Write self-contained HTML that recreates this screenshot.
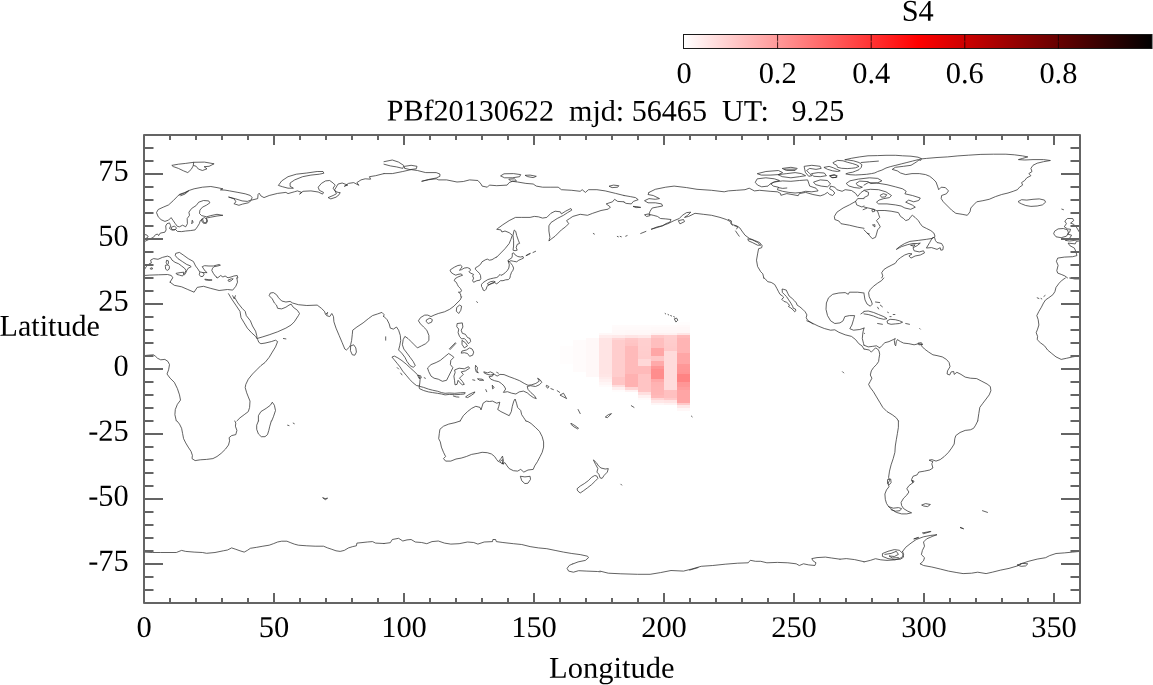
<!DOCTYPE html>
<html><head><meta charset="utf-8"><title>S4 map</title>
<style>
html,body{margin:0;padding:0;background:#fff;}
body{width:1153px;height:685px;overflow:hidden;font-family:"Liberation Serif",serif;}
svg{display:block;will-change:transform;}
text{font-family:"Liberation Serif",serif;font-size:30px;fill:#000;}
</style></head><body>
<svg width="1153" height="685" viewBox="0 0 1153 685">
<defs><linearGradient id="cb" x1="0" x2="1" y1="0" y2="0"><stop offset="0" stop-color="#fff"/><stop offset="0.5" stop-color="#f00"/><stop offset="1" stop-color="#000"/></linearGradient></defs>
<rect x="0" y="0" width="1153" height="685" fill="#fff"/>
<g shape-rendering="crispEdges">
<rect x="560.0" y="346" width="13" height="18.0" fill="#fffdfd"/>
<rect x="573.0" y="339.5" width="13" height="32.7" fill="#fffbfb"/>
<rect x="586.0" y="338.4" width="13" height="38.6" fill="#fff8f8"/>
<rect x="599.0" y="332.6" width="13" height="2.65" fill="rgb(255,248,248)"/>
<rect x="599.0" y="335.2" width="13" height="2.65" fill="rgb(255,237,237)"/>
<rect x="599.0" y="337.8" width="13" height="2.65" fill="rgb(255,228,228)"/>
<rect x="599.0" y="340.4" width="13" height="2.65" fill="rgb(255,228,228)"/>
<rect x="599.0" y="343.0" width="13" height="2.65" fill="rgb(255,228,228)"/>
<rect x="599.0" y="345.6" width="13" height="2.65" fill="rgb(255,228,228)"/>
<rect x="599.0" y="348.2" width="13" height="2.65" fill="rgb(255,228,228)"/>
<rect x="599.0" y="350.8" width="13" height="2.65" fill="rgb(255,228,228)"/>
<rect x="599.0" y="353.4" width="13" height="2.65" fill="rgb(255,228,228)"/>
<rect x="599.0" y="356.0" width="13" height="2.65" fill="rgb(255,228,228)"/>
<rect x="599.0" y="358.6" width="13" height="2.65" fill="rgb(255,228,228)"/>
<rect x="599.0" y="361.2" width="13" height="2.65" fill="rgb(255,228,228)"/>
<rect x="599.0" y="363.8" width="13" height="2.65" fill="rgb(255,228,228)"/>
<rect x="599.0" y="366.4" width="13" height="2.65" fill="rgb(255,228,228)"/>
<rect x="599.0" y="369.0" width="13" height="2.65" fill="rgb(255,228,228)"/>
<rect x="599.0" y="371.6" width="13" height="2.65" fill="rgb(255,228,228)"/>
<rect x="599.0" y="374.2" width="13" height="2.65" fill="rgb(255,230,230)"/>
<rect x="599.0" y="376.8" width="13" height="2.65" fill="rgb(255,235,235)"/>
<rect x="599.0" y="379.4" width="13" height="2.65" fill="rgb(255,240,240)"/>
<rect x="599.0" y="382.0" width="13" height="2.65" fill="rgb(255,246,246)"/>
<rect x="599.0" y="384.6" width="13" height="2.65" fill="rgb(255,251,251)"/>
<rect x="612.0" y="324.8" width="13" height="2.65" fill="rgb(255,251,251)"/>
<rect x="612.0" y="327.4" width="13" height="2.65" fill="rgb(255,250,250)"/>
<rect x="612.0" y="330.0" width="13" height="2.65" fill="rgb(255,249,249)"/>
<rect x="612.0" y="332.6" width="13" height="2.65" fill="rgb(255,248,248)"/>
<rect x="612.0" y="335.2" width="13" height="2.65" fill="rgb(255,234,234)"/>
<rect x="612.0" y="337.8" width="13" height="2.65" fill="rgb(255,212,212)"/>
<rect x="612.0" y="340.4" width="13" height="2.65" fill="rgb(255,205,205)"/>
<rect x="612.0" y="343.0" width="13" height="2.65" fill="rgb(255,205,205)"/>
<rect x="612.0" y="345.6" width="13" height="2.65" fill="rgb(255,205,205)"/>
<rect x="612.0" y="348.2" width="13" height="2.65" fill="rgb(255,205,205)"/>
<rect x="612.0" y="350.8" width="13" height="2.65" fill="rgb(255,205,205)"/>
<rect x="612.0" y="353.4" width="13" height="2.65" fill="rgb(255,205,205)"/>
<rect x="612.0" y="356.0" width="13" height="2.65" fill="rgb(255,205,205)"/>
<rect x="612.0" y="358.6" width="13" height="2.65" fill="rgb(255,205,205)"/>
<rect x="612.0" y="361.2" width="13" height="2.65" fill="rgb(255,205,205)"/>
<rect x="612.0" y="363.8" width="13" height="2.65" fill="rgb(255,205,205)"/>
<rect x="612.0" y="366.4" width="13" height="2.65" fill="rgb(255,205,205)"/>
<rect x="612.0" y="369.0" width="13" height="2.65" fill="rgb(255,205,205)"/>
<rect x="612.0" y="371.6" width="13" height="2.65" fill="rgb(255,205,205)"/>
<rect x="612.0" y="374.2" width="13" height="2.65" fill="rgb(255,205,205)"/>
<rect x="612.0" y="376.8" width="13" height="2.65" fill="rgb(255,197,197)"/>
<rect x="612.0" y="379.4" width="13" height="2.65" fill="rgb(255,197,197)"/>
<rect x="612.0" y="382.0" width="13" height="2.65" fill="rgb(255,197,197)"/>
<rect x="612.0" y="384.6" width="13" height="2.65" fill="rgb(255,221,221)"/>
<rect x="612.0" y="387.2" width="13" height="2.65" fill="rgb(255,240,240)"/>
<rect x="612.0" y="389.8" width="13" height="2.65" fill="rgb(255,252,252)"/>
<rect x="625.0" y="324.8" width="13" height="2.65" fill="rgb(255,251,251)"/>
<rect x="625.0" y="327.4" width="13" height="2.65" fill="rgb(255,250,250)"/>
<rect x="625.0" y="330.0" width="13" height="2.65" fill="rgb(255,248,248)"/>
<rect x="625.0" y="332.6" width="13" height="2.65" fill="rgb(255,247,247)"/>
<rect x="625.0" y="335.2" width="13" height="2.65" fill="rgb(255,229,229)"/>
<rect x="625.0" y="337.8" width="13" height="2.65" fill="rgb(255,200,200)"/>
<rect x="625.0" y="340.4" width="13" height="2.65" fill="rgb(255,197,197)"/>
<rect x="625.0" y="343.0" width="13" height="2.65" fill="rgb(255,195,195)"/>
<rect x="625.0" y="345.6" width="13" height="2.65" fill="rgb(255,186,186)"/>
<rect x="625.0" y="348.2" width="13" height="2.65" fill="rgb(255,186,186)"/>
<rect x="625.0" y="350.8" width="13" height="2.65" fill="rgb(255,186,186)"/>
<rect x="625.0" y="353.4" width="13" height="2.65" fill="rgb(255,186,186)"/>
<rect x="625.0" y="356.0" width="13" height="2.65" fill="rgb(255,186,186)"/>
<rect x="625.0" y="358.6" width="13" height="2.65" fill="rgb(255,186,186)"/>
<rect x="625.0" y="361.2" width="13" height="2.65" fill="rgb(255,186,186)"/>
<rect x="625.0" y="363.8" width="13" height="2.65" fill="rgb(255,186,186)"/>
<rect x="625.0" y="366.4" width="13" height="2.65" fill="rgb(255,186,186)"/>
<rect x="625.0" y="369.0" width="13" height="2.65" fill="rgb(255,186,186)"/>
<rect x="625.0" y="371.6" width="13" height="2.65" fill="rgb(255,186,186)"/>
<rect x="625.0" y="374.2" width="13" height="2.65" fill="rgb(255,177,177)"/>
<rect x="625.0" y="376.8" width="13" height="2.65" fill="rgb(255,177,177)"/>
<rect x="625.0" y="379.4" width="13" height="2.65" fill="rgb(255,177,177)"/>
<rect x="625.0" y="382.0" width="13" height="2.65" fill="rgb(255,177,177)"/>
<rect x="625.0" y="384.6" width="13" height="2.65" fill="rgb(255,177,177)"/>
<rect x="625.0" y="387.2" width="13" height="2.65" fill="rgb(255,213,213)"/>
<rect x="625.0" y="389.8" width="13" height="2.65" fill="rgb(255,242,242)"/>
<rect x="638.0" y="324.8" width="13" height="2.65" fill="rgb(255,251,251)"/>
<rect x="638.0" y="327.4" width="13" height="2.65" fill="rgb(255,250,250)"/>
<rect x="638.0" y="330.0" width="13" height="2.65" fill="rgb(255,248,248)"/>
<rect x="638.0" y="332.6" width="13" height="2.65" fill="rgb(255,247,247)"/>
<rect x="638.0" y="335.2" width="13" height="2.65" fill="rgb(255,232,232)"/>
<rect x="638.0" y="337.8" width="13" height="2.65" fill="rgb(255,208,208)"/>
<rect x="638.0" y="340.4" width="13" height="2.65" fill="rgb(255,207,207)"/>
<rect x="638.0" y="343.0" width="13" height="2.65" fill="rgb(255,207,207)"/>
<rect x="638.0" y="345.6" width="13" height="2.65" fill="rgb(255,206,206)"/>
<rect x="638.0" y="348.2" width="13" height="2.65" fill="rgb(255,206,206)"/>
<rect x="638.0" y="350.8" width="13" height="2.65" fill="rgb(255,205,205)"/>
<rect x="638.0" y="353.4" width="13" height="2.65" fill="rgb(255,205,205)"/>
<rect x="638.0" y="356.0" width="13" height="2.65" fill="rgb(255,204,204)"/>
<rect x="638.0" y="358.6" width="13" height="2.65" fill="rgb(255,216,216)"/>
<rect x="638.0" y="361.2" width="13" height="2.65" fill="rgb(255,216,216)"/>
<rect x="638.0" y="363.8" width="13" height="2.65" fill="rgb(255,216,216)"/>
<rect x="638.0" y="366.4" width="13" height="2.65" fill="rgb(255,186,186)"/>
<rect x="638.0" y="369.0" width="13" height="2.65" fill="rgb(255,186,186)"/>
<rect x="638.0" y="371.6" width="13" height="2.65" fill="rgb(255,186,186)"/>
<rect x="638.0" y="374.2" width="13" height="2.65" fill="rgb(255,196,196)"/>
<rect x="638.0" y="376.8" width="13" height="2.65" fill="rgb(255,196,196)"/>
<rect x="638.0" y="379.4" width="13" height="2.65" fill="rgb(255,196,196)"/>
<rect x="638.0" y="382.0" width="13" height="2.65" fill="rgb(255,196,196)"/>
<rect x="638.0" y="384.6" width="13" height="2.65" fill="rgb(255,196,196)"/>
<rect x="638.0" y="387.2" width="13" height="2.65" fill="rgb(255,196,196)"/>
<rect x="638.0" y="389.8" width="13" height="2.65" fill="rgb(255,197,197)"/>
<rect x="638.0" y="392.4" width="13" height="2.65" fill="rgb(255,223,223)"/>
<rect x="638.0" y="395.0" width="13" height="2.65" fill="rgb(255,241,241)"/>
<rect x="638.0" y="397.6" width="13" height="2.65" fill="rgb(255,251,251)"/>
<rect x="651.0" y="324.8" width="13" height="2.65" fill="rgb(255,251,251)"/>
<rect x="651.0" y="327.4" width="13" height="2.65" fill="rgb(255,249,249)"/>
<rect x="651.0" y="330.0" width="13" height="2.65" fill="rgb(255,247,247)"/>
<rect x="651.0" y="332.6" width="13" height="2.65" fill="rgb(255,240,240)"/>
<rect x="651.0" y="335.2" width="13" height="2.65" fill="rgb(255,200,200)"/>
<rect x="651.0" y="337.8" width="13" height="2.65" fill="rgb(255,190,190)"/>
<rect x="651.0" y="340.4" width="13" height="2.65" fill="rgb(255,190,190)"/>
<rect x="651.0" y="343.0" width="13" height="2.65" fill="rgb(255,190,190)"/>
<rect x="651.0" y="345.6" width="13" height="2.65" fill="rgb(255,190,190)"/>
<rect x="651.0" y="348.2" width="13" height="2.65" fill="rgb(255,166,166)"/>
<rect x="651.0" y="350.8" width="13" height="2.65" fill="rgb(255,166,166)"/>
<rect x="651.0" y="353.4" width="13" height="2.65" fill="rgb(255,166,166)"/>
<rect x="651.0" y="356.0" width="13" height="2.65" fill="rgb(255,198,198)"/>
<rect x="651.0" y="358.6" width="13" height="2.65" fill="rgb(255,198,198)"/>
<rect x="651.0" y="361.2" width="13" height="2.65" fill="rgb(255,170,170)"/>
<rect x="651.0" y="363.8" width="13" height="2.65" fill="rgb(255,170,170)"/>
<rect x="651.0" y="366.4" width="13" height="2.65" fill="rgb(255,150,150)"/>
<rect x="651.0" y="369.0" width="13" height="2.65" fill="rgb(255,141,141)"/>
<rect x="651.0" y="371.6" width="13" height="2.65" fill="rgb(255,141,141)"/>
<rect x="651.0" y="374.2" width="13" height="2.65" fill="rgb(255,141,141)"/>
<rect x="651.0" y="376.8" width="13" height="2.65" fill="rgb(255,141,141)"/>
<rect x="651.0" y="379.4" width="13" height="2.65" fill="rgb(255,169,169)"/>
<rect x="651.0" y="382.0" width="13" height="2.65" fill="rgb(255,178,178)"/>
<rect x="651.0" y="384.6" width="13" height="2.65" fill="rgb(255,179,179)"/>
<rect x="651.0" y="387.2" width="13" height="2.65" fill="rgb(255,180,180)"/>
<rect x="651.0" y="389.8" width="13" height="2.65" fill="rgb(255,180,180)"/>
<rect x="651.0" y="392.4" width="13" height="2.65" fill="rgb(255,181,181)"/>
<rect x="651.0" y="395.0" width="13" height="2.65" fill="rgb(255,185,185)"/>
<rect x="651.0" y="397.6" width="13" height="2.65" fill="rgb(255,214,214)"/>
<rect x="651.0" y="400.2" width="13" height="2.65" fill="rgb(255,231,231)"/>
<rect x="651.0" y="402.8" width="13" height="2.65" fill="rgb(255,246,246)"/>
<rect x="664.0" y="324.8" width="13" height="2.65" fill="rgb(255,251,251)"/>
<rect x="664.0" y="327.4" width="13" height="2.65" fill="rgb(255,249,249)"/>
<rect x="664.0" y="330.0" width="13" height="2.65" fill="rgb(255,247,247)"/>
<rect x="664.0" y="332.6" width="13" height="2.65" fill="rgb(255,241,241)"/>
<rect x="664.0" y="335.2" width="13" height="2.65" fill="rgb(255,206,206)"/>
<rect x="664.0" y="337.8" width="13" height="2.65" fill="rgb(255,205,205)"/>
<rect x="664.0" y="340.4" width="13" height="2.65" fill="rgb(255,204,204)"/>
<rect x="664.0" y="343.0" width="13" height="2.65" fill="rgb(255,203,203)"/>
<rect x="664.0" y="345.6" width="13" height="2.65" fill="rgb(255,202,202)"/>
<rect x="664.0" y="348.2" width="13" height="2.65" fill="rgb(255,201,201)"/>
<rect x="664.0" y="350.8" width="13" height="2.65" fill="rgb(255,219,219)"/>
<rect x="664.0" y="353.4" width="13" height="2.65" fill="rgb(255,219,219)"/>
<rect x="664.0" y="356.0" width="13" height="2.65" fill="rgb(255,219,219)"/>
<rect x="664.0" y="358.6" width="13" height="2.65" fill="rgb(255,219,219)"/>
<rect x="664.0" y="361.2" width="13" height="2.65" fill="rgb(255,219,219)"/>
<rect x="664.0" y="363.8" width="13" height="2.65" fill="rgb(255,219,219)"/>
<rect x="664.0" y="366.4" width="13" height="2.65" fill="rgb(255,219,219)"/>
<rect x="664.0" y="369.0" width="13" height="2.65" fill="rgb(255,219,219)"/>
<rect x="664.0" y="371.6" width="13" height="2.65" fill="rgb(255,219,219)"/>
<rect x="664.0" y="374.2" width="13" height="2.65" fill="rgb(255,219,219)"/>
<rect x="664.0" y="376.8" width="13" height="2.65" fill="rgb(255,219,219)"/>
<rect x="664.0" y="379.4" width="13" height="2.65" fill="rgb(255,219,219)"/>
<rect x="664.0" y="382.0" width="13" height="2.65" fill="rgb(255,219,219)"/>
<rect x="664.0" y="384.6" width="13" height="2.65" fill="rgb(255,219,219)"/>
<rect x="664.0" y="387.2" width="13" height="2.65" fill="rgb(255,219,219)"/>
<rect x="664.0" y="389.8" width="13" height="2.65" fill="rgb(255,192,192)"/>
<rect x="664.0" y="392.4" width="13" height="2.65" fill="rgb(255,192,192)"/>
<rect x="664.0" y="395.0" width="13" height="2.65" fill="rgb(255,192,192)"/>
<rect x="664.0" y="397.6" width="13" height="2.65" fill="rgb(255,202,202)"/>
<rect x="664.0" y="400.2" width="13" height="2.65" fill="rgb(255,228,228)"/>
<rect x="664.0" y="402.8" width="13" height="2.65" fill="rgb(255,242,242)"/>
<rect x="677.0" y="322.2" width="13" height="2.65" fill="rgb(255,253,253)"/>
<rect x="677.0" y="324.8" width="13" height="2.65" fill="rgb(255,250,250)"/>
<rect x="677.0" y="327.4" width="13" height="2.65" fill="rgb(255,248,248)"/>
<rect x="677.0" y="330.0" width="13" height="2.65" fill="rgb(255,247,247)"/>
<rect x="677.0" y="332.6" width="13" height="2.65" fill="rgb(255,230,230)"/>
<rect x="677.0" y="335.2" width="13" height="2.65" fill="rgb(255,186,186)"/>
<rect x="677.0" y="337.8" width="13" height="2.65" fill="rgb(255,180,180)"/>
<rect x="677.0" y="340.4" width="13" height="2.65" fill="rgb(255,180,180)"/>
<rect x="677.0" y="343.0" width="13" height="2.65" fill="rgb(255,180,180)"/>
<rect x="677.0" y="345.6" width="13" height="2.65" fill="rgb(255,180,180)"/>
<rect x="677.0" y="348.2" width="13" height="2.65" fill="rgb(255,180,180)"/>
<rect x="677.0" y="350.8" width="13" height="2.65" fill="rgb(255,180,180)"/>
<rect x="677.0" y="353.4" width="13" height="2.65" fill="rgb(255,166,166)"/>
<rect x="677.0" y="356.0" width="13" height="2.65" fill="rgb(255,166,166)"/>
<rect x="677.0" y="358.6" width="13" height="2.65" fill="rgb(255,166,166)"/>
<rect x="677.0" y="361.2" width="13" height="2.65" fill="rgb(255,166,166)"/>
<rect x="677.0" y="363.8" width="13" height="2.65" fill="rgb(255,152,152)"/>
<rect x="677.0" y="366.4" width="13" height="2.65" fill="rgb(255,151,151)"/>
<rect x="677.0" y="369.0" width="13" height="2.65" fill="rgb(255,150,150)"/>
<rect x="677.0" y="371.6" width="13" height="2.65" fill="rgb(255,148,148)"/>
<rect x="677.0" y="374.2" width="13" height="2.65" fill="rgb(255,131,131)"/>
<rect x="677.0" y="376.8" width="13" height="2.65" fill="rgb(255,131,131)"/>
<rect x="677.0" y="379.4" width="13" height="2.65" fill="rgb(255,131,131)"/>
<rect x="677.0" y="382.0" width="13" height="2.65" fill="rgb(255,150,150)"/>
<rect x="677.0" y="384.6" width="13" height="2.65" fill="rgb(255,151,151)"/>
<rect x="677.0" y="387.2" width="13" height="2.65" fill="rgb(255,158,158)"/>
<rect x="677.0" y="389.8" width="13" height="2.65" fill="rgb(255,165,165)"/>
<rect x="677.0" y="392.4" width="13" height="2.65" fill="rgb(255,165,165)"/>
<rect x="677.0" y="395.0" width="13" height="2.65" fill="rgb(255,165,165)"/>
<rect x="677.0" y="397.6" width="13" height="2.65" fill="rgb(255,165,165)"/>
<rect x="677.0" y="400.2" width="13" height="2.65" fill="rgb(255,165,165)"/>
<rect x="677.0" y="402.8" width="13" height="2.65" fill="rgb(255,201,201)"/>
<rect x="677.0" y="405.4" width="13" height="2.65" fill="rgb(255,232,232)"/>
<rect x="677.0" y="408.0" width="13" height="2.65" fill="rgb(255,247,247)"/>
</g>
<g fill="none" stroke="#2e2e2e" stroke-width="0.75" stroke-linejoin="round" stroke-linecap="round">
<path d="M172.2,165.3 L178.4,164.2 L185.7,163.4 L193.7,162.3 L193.2,165.9 L191.2,169.4 L187.8,172.6 L183.6,170.9 L178.4,168.4 L173.6,166.7 Z"/>
<path d="M193.7,162.3 L204.5,162.1 L214.1,163.8 L209.1,166.3 L204.1,166.7 L207.0,168.8 L202.4,170.5 L198.3,169.0 L196.2,166.3 L193.7,165.5"/>
<path d="M278.6,185.1 L281.7,180.9 L288.0,176.7 L296.3,174.2 L306.8,173.0 L317.2,171.5 L323.0,171.5 L323.9,173.2 L319.3,174.2 L310.9,175.1 L302.6,176.7 L294.7,179.9 L290.1,183.0 L290.1,186.3 L293.4,188.2 L288.0,188.2 L282.8,186.8 Z"/>
<path d="M144.0,234.3 L146.9,235.0 L148.2,236.8 L145.7,238.7 L144.0,239.8"/>
<path d="M144.0,241.8 L149.2,239.3 L153.4,237.3 L155.5,234.7 L157.6,234.1 L158.6,235.6 L160.3,233.1 L164.9,232.2 L166.1,229.9 L165.7,226.0 L167.0,223.7 L169.5,222.9 L170.7,225.8 L169.5,228.5 L172.2,230.2 L175.3,229.3 L177.4,231.4 L181.6,231.6 L185.7,231.0 L190.3,230.6 L195.1,229.9 L197.4,226.8 L199.3,223.7 L200.3,220.6 L202.8,219.3 L203.3,222.2 L206.2,223.5 L207.6,221.0 L206.0,218.1 L210.8,217.2 L217.0,216.0 L222.5,215.3"/>
<path d="M171.5,227.2 L174.5,226.0 L176.6,228.1 L174.5,230.2 L172.0,229.3 Z"/>
<path d="M222.5,215.3 L217.0,214.3 L210.8,215.6 L206.6,216.8 L201.6,215.6 L199.5,213.5 L199.9,210.1 L202.4,207.2 L206.6,205.1 L209.9,202.8 L208.7,200.9 L203.5,200.5 L198.7,202.2 L196.2,205.5 L191.6,208.5 L188.9,212.2 L189.5,215.3 L187.2,218.5 L187.4,223.7 L185.7,226.8 L182.6,225.2 L179.5,226.8 L177.4,226.4 L175.3,223.7 L173.2,220.6 L171.1,217.6 L168.6,220.1 L164.9,221.4 L161.1,219.7 L158.2,216.8 L156.5,212.6 L158.2,209.5 L163.2,207.2 L168.6,204.9 L173.2,200.7 L177.0,196.8 L179.5,194.3 L184.7,192.6 L188.9,190.5 L194.1,188.8 L202.4,187.2 L210.8,186.5 L217.0,187.6 L222.9,188.8 L220.4,189.9 L225.0,190.1 L229.6,190.9 L237.9,192.4 L245.2,193.8 L250.4,195.5 L252.1,197.6 L251.1,200.1 L247.3,201.4 L242.1,200.9 L235.8,198.9 L228.5,197.0 L234.2,198.9 L236.0,201.8 L233.9,203.7 L238.9,205.3 L242.5,204.1 L248.3,202.8 L251.7,200.1 L257.7,198.6 L258.1,194.3 L259.2,193.2 L260.9,195.9 L264.0,197.6 L269.2,195.5 L277.6,193.4 L285.9,192.4 L288.0,193.6 L294.3,191.8 L297.4,190.9 L301.8,192.4 L299.5,194.1 L303.0,191.3 L310.9,190.9 L318.2,192.0 L322.6,194.1 L323.5,192.4 L319.3,190.3 L318.2,187.2 L321.4,183.4 L325.6,180.9 L329.7,180.5 L333.1,183.0 L335.2,185.1 L333.1,188.2 L335.2,191.3 L338.1,192.4 L340.2,192.6 L339.1,194.7 L336.0,197.2 L330.8,198.9 L328.1,197.6 L333.1,195.5 L336.4,193.8 L334.7,189.7 L338.1,184.0 L342.2,183.0 L347.7,185.1 L344.3,186.3 L348.5,183.4 L353.7,182.6 L358.9,185.3 L356.9,182.6 L361.0,179.9 L365.2,178.8 L370.6,179.2 L369.4,176.7 L375.6,175.7 L384.0,173.6"/>
<path d="M179.1,195.1 L183.6,193.4 L188.7,190.9 L184.9,194.1 L180.7,195.7"/>
<path d="M192.4,220.6 L193.2,222.2 L192.0,223.5 Z"/>
<path d="M202.0,218.9 L204.5,217.6 L207.0,219.3 L206.2,222.6 L203.7,223.5 L202.0,221.4 Z"/>
<path d="M384.0,161.7 L392.3,160.0 L398.6,162.1 L403.8,165.5 L402.8,168.4 L396.5,166.9 L390.3,165.9 L384.0,164.2"/>
<path d="M404.9,166.3 L411.1,165.3 L417.0,166.3 L416.3,168.8 L410.1,169.6 L404.9,168.4 Z"/>
<path d="M384.0,173.6 L392.3,173.6 L402.8,171.5 L411.1,169.6 L417.4,170.5 L425.7,172.6 L436.2,172.6 L439.9,174.0 L439.9,176.3 L436.2,178.0 L428.9,179.4 L421.6,181.3 L428.9,179.7 L436.2,178.8 L438.7,179.9 L446.6,179.9 L457.0,182.0 L463.3,181.5 L469.6,179.9 L477.9,180.5 L481.0,184.0 L482.1,186.1 L487.3,187.2 L489.4,185.1 L496.7,185.7 L507.1,185.1 L509.2,182.6 L512.3,181.3 L517.6,182.0 L525.9,183.4 L533.2,184.0 L536.3,186.1 L542.6,187.2 L550.9,187.2 L558.2,187.2 L561.4,189.7 L571.8,190.3 L580.2,191.3 L582.2,189.7 L585.4,192.4 L588.5,189.7 L596.9,189.7 L605.2,190.9 L615.6,193.4 L624.0,195.5"/>
<path d="M500.9,175.7 L504.0,173.8 L513.4,173.6 L520.7,174.6 L519.6,176.7 L512.3,177.8 L505.0,177.8 Z"/>
<path d="M525.5,175.3 L530.1,175.1 L536.3,176.3 L533.2,177.6 L528.0,176.7 Z"/>
<path d="M509.2,179.2 L514.4,178.8 L516.5,180.9 L511.3,181.3 Z"/>
<path d="M609.4,186.1 L613.5,185.1 L618.8,185.7 L617.7,187.2 L612.5,187.6 Z"/>
<path d="M624.0,201.8 L617.7,201.4 L614.6,199.3 L612.5,201.8 L606.2,203.9 L610.4,207.0 L608.3,209.1 L601.0,210.5 L592.7,213.3 L587.5,215.3 L580.2,214.3 L572.9,216.4 L569.7,218.5 L566.6,220.6 L568.7,223.7 L565.6,226.8 L561.4,229.9 L558.2,233.1 L555.1,236.2 L550.9,239.3 L548.9,241.0 L549.9,237.3 L548.9,231.0 L548.9,225.8 L550.9,222.6 L557.2,218.5 L563.5,215.3 L567.6,212.6 L571.8,210.1 L570.8,208.5 L565.6,211.2 L561.4,213.9 L560.3,211.8 L555.1,211.2 L550.9,213.3 L546.8,217.4 L542.6,218.1 L538.4,216.8 L534.3,216.4 L530.1,217.4 L521.7,217.4 L515.5,217.4 L509.2,220.6 L502.9,224.7 L497.7,228.5 L496.7,229.3 L500.9,229.9 L501.9,232.0 L505.0,231.0 L509.2,232.7 L512.3,235.2 L510.9,239.3 L509.2,243.5 L505.0,248.7 L500.9,252.9 L496.7,257.1"/>
<path d="M593.3,233.5 L594.4,234.1"/>
<path d="M617.3,236.4 L618.3,236.8"/>
<path d="M620.2,236.4 L621.3,236.8"/>
<path d="M624.0,195.5 L630.3,196.6 L635.5,197.6 L638.2,199.7 L633.4,201.4 L631.3,203.9 L626.1,203.4 L624.0,202.2"/>
<path d="M633.4,206.4 L636.9,206.6 L640.7,207.4 L636.5,207.6 Z"/>
<path d="M649.0,192.4 L655.3,189.3 L665.7,187.2 L674.1,186.1 L686.6,187.6 L697.0,189.3 L711.6,190.3 L724.2,191.8 L728.3,190.9 L736.7,190.3 L745.0,189.7 L749.2,188.2 L754.4,190.9 L759.6,190.3 L770.1,191.3 L777.4,191.8 L780.5,193.4 L780.9,195.3 L786.8,193.6 L793.0,194.7 L798.2,195.7 L799.3,193.6 L805.6,192.4 L812.9,194.5 L820.2,195.9 L824.3,194.5 L827.5,192.4 L829.6,194.5 L832.7,195.5 L834.8,193.0 L832.7,190.5 L829.6,188.8 L830.6,186.1 L834.8,187.2 L836.9,189.7 L842.1,191.3 L845.2,189.7 L851.5,190.5 L855.6,193.4 L857.7,196.4 L860.9,192.6 L864.0,190.5"/>
<path d="M649.0,192.4 L648.0,194.5 L653.2,195.5 L659.5,198.6 L655.3,199.3 L649.0,198.6 L644.5,200.7 L648.0,202.8 L655.3,202.8 L661.6,203.9 L662.6,206.0 L657.4,207.0 L652.2,208.0 L650.1,211.2 L649.0,214.3 L653.2,215.3 L657.4,216.4 L660.5,218.5 L665.7,218.9 L671.0,219.5 L669.9,222.2 L665.7,223.7 L662.6,225.8 L657.4,226.8 L651.1,229.3 L659.5,226.8 L667.8,223.7 L674.1,220.6 L679.3,218.5 L682.4,215.3 L686.6,212.6 L690.8,212.2 L687.6,215.3 L684.5,217.4 L688.7,216.4 L695.0,213.3 L703.3,214.3 L711.6,215.3 L720.0,217.4 L726.3,219.5 L730.4,221.6 L732.5,224.7 L736.7,225.8 L739.8,227.9 L741.9,231.0 L745.0,235.2 L749.2,238.3 L754.4,240.4 L759.6,242.5 L762.1,245.6 L761.7,247.7 L758.6,248.7 L757.6,253.9 L756.5,260.2 L757.6,266.5 L760.7,271.7 L762.8,273.8 L763.8,277.9"/>
<path d="M645.9,231.4 L640.7,233.5"/>
<path d="M627.1,235.6 L625.7,236.2"/>
<path d="M678.7,220.6 L683.5,219.5 L684.5,221.6 L680.3,223.7 Z"/>
<path d="M644.9,214.7 L648.6,213.9 L650.1,215.6 L647.0,216.4 Z"/>
<path d="M748.2,238.9 L752.3,239.8 L757.6,242.5 L760.7,245.2 L757.6,245.2 L752.3,242.5 L748.8,241.0 Z"/>
<path d="M728.3,219.5 L731.5,221.0 L730.8,223.7 L732.5,225.2"/>
<path d="M734.6,225.8 L737.7,226.8 L736.7,228.9"/>
<path d="M735.6,231.0 L737.7,234.1 L739.2,236.2"/>
<path d="M757.6,178.8 L765.9,177.8 L774.3,178.8 L779.5,180.5 L774.3,182.0 L770.1,184.0 L768.0,186.1 L761.7,186.8 L757.6,185.1 L755.5,182.6 Z"/>
<path d="M774.3,182.0 L782.6,180.9 L790.9,181.3 L799.3,180.5 L807.6,179.9 L808.7,183.0 L809.7,186.1 L816.0,188.2 L818.1,190.9 L811.8,191.8 L805.6,191.3 L801.4,192.4 L795.1,193.0 L788.9,192.4 L782.6,191.3 L777.4,189.7 L778.4,187.2 L773.2,186.1 L771.1,184.0 Z"/>
<path d="M778.4,187.6 L782.6,188.4 L786.8,188.0"/>
<path d="M757.6,173.6 L765.9,171.5 L778.4,170.5 L782.6,172.6 L778.4,174.6 L770.1,175.1 L761.7,175.1 Z"/>
<path d="M782.6,168.4 L790.9,167.3 L797.2,168.4 L795.1,170.5 L786.8,170.5 Z"/>
<path d="M784.7,169.2 L795.5,169.2"/>
<path d="M778.4,174.6 L786.8,173.6 L795.1,172.6 L801.4,173.6 L805.6,175.7 L799.3,176.7 L790.9,177.8 L782.6,176.7 Z"/>
<path d="M804.5,166.3 L811.8,165.3 L820.2,166.3 L821.2,168.4 L816.0,169.4 L809.7,168.4 L806.6,170.5 L809.7,173.6 L811.8,175.7 L808.7,176.3 L805.6,172.6 Z"/>
<path d="M811.8,173.6 L818.1,172.6 L824.3,173.0 L826.4,175.7 L820.2,176.7 L813.9,176.3 Z"/>
<path d="M813.9,182.0 L820.2,179.9 L827.5,180.5 L830.6,184.0 L827.5,186.8 L821.2,186.1 L816.0,184.7 Z"/>
<path d="M830.6,175.7 L834.8,175.1 L836.9,177.2 L832.7,177.8 Z"/>
<path d="M864.0,198.6 L857.7,198.6 L855.6,201.4 L856.7,204.9 L861.9,207.0 L864.0,206.0"/>
<path d="M855.6,201.4 L849.4,204.9 L843.1,208.0 L836.9,212.2 L834.4,216.4 L834.8,219.5 L838.9,221.0 L841.0,223.7 L849.4,225.2 L857.7,227.2 L864.0,228.3"/>
<path d="M920.3,159.0 L926.6,158.4 L937.0,157.5 L947.5,156.9 L957.9,155.9 L968.3,155.2 L980.9,154.4 L993.4,154.2 L1005.9,154.2 L1014.3,154.8 L1022.6,155.9 L1027.8,156.9 L1022.6,158.4 L1018.4,159.6 L1024.7,160.0 L1033.0,159.6 L1043.5,159.6 L1050.4,160.5 L1043.5,161.7 L1037.2,163.2 L1033.0,165.3 L1030.9,168.4 L1032.0,171.5 L1028.9,173.6 L1030.9,175.7 L1026.8,177.8 L1024.7,180.5 L1021.6,182.6 L1022.6,185.1 L1019.5,187.2 L1017.4,189.7 L1013.2,191.3 L1008.0,193.0 L1001.7,194.5 L995.5,196.6 L989.2,199.3 L982.9,200.7 L976.7,201.8 L973.6,204.9 L970.8,208.0 L970.0,211.8 L967.3,215.3 L962.1,214.3 L955.8,213.3 L951.6,210.1 L947.5,206.0 L943.3,201.8 L941.2,198.6 L941.6,195.5 L946.4,193.8 L948.5,190.9 L945.4,187.6 L941.2,187.2 L938.7,189.7 L937.5,186.1 L936.0,182.0 L932.9,178.8 L929.7,176.3 L925.6,174.6 L919.3,173.6 L912.0,173.6 L905.7,174.6 L900.5,173.0 L897.4,170.9 L892.2,169.4 L895.3,167.3 L903.6,166.3 L911.0,165.3 L916.2,162.1 Z"/>
<path d="M864.0,185.1 L868.2,182.6 L876.5,183.0 L887.0,184.7 L895.3,186.8 L902.6,188.8 L906.2,191.3 L904.9,193.8 L912.4,195.5 L920.3,198.0 L918.7,200.5 L913.7,201.8 L908.7,200.1 L905.7,202.2 L912.4,205.1 L915.3,207.2 L910.7,209.3 L904.9,208.0 L901.1,206.0 L895.3,204.9 L887.0,203.9 L878.6,203.9 L876.5,202.2 L879.0,200.1 L883.8,198.6 L889.5,197.6 L891.5,195.5 L885.9,191.8 L878.6,189.7 L870.3,189.3 L864.0,190.3"/>
<path d="M864.0,197.6 L868.2,195.5 L868.6,192.4 L865.0,190.9"/>
<path d="M864.0,229.9 L866.1,232.0 L869.2,235.2 L872.3,238.7 L875.5,237.3 L876.5,234.1 L877.6,229.9 L880.3,226.8 L878.6,223.7 L876.5,220.6 L879.7,217.4 L878.6,214.3 L877.6,211.2 L873.4,209.1 L868.2,208.0 L864.0,207.0"/>
<path d="M877.6,210.5 L884.9,210.5 L891.1,211.2 L898.4,212.6 L900.5,216.4 L903.6,218.5 L905.7,220.6 L908.9,219.5 L911.0,216.4 L912.4,215.3 L915.1,217.4 L918.3,220.6 L920.3,223.7 L922.4,226.4 L926.6,228.5 L930.8,230.6 L933.9,233.1 L935.0,236.2 L932.9,238.3 L926.6,239.3 L918.3,240.4 L909.9,241.4 L904.7,243.5 L899.5,246.6 L896.3,249.4 L901.6,246.6 L907.8,244.6 L913.0,243.5 L917.2,243.5 L920.3,243.1 L917.2,245.6 L913.0,247.7 L914.1,250.8 L919.3,251.9 L923.5,250.8 L924.5,252.9 L920.3,255.0 L915.1,256.0 L911.0,258.1 L908.9,256.0 L912.0,253.9 L908.9,253.5 L904.7,255.0 L900.5,257.7 L897.4,260.2 L895.3,263.3 L891.1,265.4 L887.0,267.5 L883.8,269.6 L881.7,272.7 L882.8,275.9 L881.7,277.9"/>
<path d="M911.0,245.2 L915.1,244.8 L914.1,246.0 Z"/>
<path d="M926.6,247.7 L929.7,242.5 L932.4,237.7 L934.5,237.3 L935.4,240.4 L937.0,242.5 L941.6,243.5 L943.3,246.6 L942.9,249.8 L940.8,250.2 L940.2,247.7 L937.0,249.4 L935.0,248.7 L931.8,247.7 Z"/>
<path d="M1018.4,201.4 L1021.6,199.7 L1026.8,200.1 L1033.0,199.3 L1039.3,198.9 L1044.5,200.1 L1045.6,202.2 L1042.4,204.9 L1037.2,206.0 L1030.9,206.4 L1025.7,205.5 L1021.6,203.9 L1019.5,202.8 Z"/>
<path d="M1061.8,209.1 L1063.5,209.7"/>
<path d="M1054.9,231.0 L1058.1,228.9 L1063.3,228.5 L1067.5,229.9 L1068.5,233.1 L1066.4,236.2 L1061.2,237.7 L1056.0,236.8 L1053.9,234.1 Z"/>
<path d="M1080.0,233.1 L1078.9,231.4 L1076.9,227.9 L1073.7,224.3 L1070.6,223.1 L1073.7,220.6 L1072.7,218.5 L1067.5,218.5 L1064.8,221.0 L1066.4,223.7 L1064.3,226.8 L1067.5,228.9 L1070.6,229.3 L1069.6,232.0 L1067.5,234.1 L1071.6,235.2 L1069.6,238.3 L1065.4,240.4 L1069.6,241.0 L1074.8,240.4 L1080.0,239.3"/>
<path d="M1080.0,240.8 L1076.4,241.4 L1075.2,243.9 L1068.1,243.1 L1069.8,245.6 L1074.4,248.1 L1076.0,251.9 L1076.9,255.6 L1072.7,256.7 L1064.3,257.1 L1057.7,258.1 L1056.4,261.3 L1058.1,265.4 L1056.8,270.6 L1057.7,273.1 L1061.2,274.4 L1064.8,275.9 L1067.5,277.9"/>
<path d="M170.1,282.2 L174.3,285.3 L181.6,286.8 L187.8,289.5 L194.1,292.2 L197.2,287.4 L203.5,286.3 L210.8,288.4 L219.1,290.5 L227.5,289.5 L232.7,290.1 L235.8,286.3 L237.5,282.2 L236.9,278.0"/>
<path d="M228.5,293.7 L231.6,298.9 L235.8,305.1 L240.0,311.4 L241.0,317.6 L244.2,322.9 L247.3,328.1 L251.5,332.7 L255.6,336.4 L257.7,339.6 L258.8,342.3 L260.9,343.7 L265.0,343.1 L271.3,341.6 L275.5,340.2 L277.6,341.6 L275.5,346.9 L272.3,352.1 L269.2,357.3 L265.0,362.5 L260.9,365.6 L256.7,369.8 L252.5,374.0 L248.3,379.2 L245.8,384.4 L245.2,387.6 L246.7,392.8 L248.3,396.9 L250.0,401.1 L249.6,407.4 L248.3,411.6 L244.2,414.7 L240.0,417.8 L236.9,420.9"/>
<path d="M232.7,295.7 L234.2,298.9 L235.4,295.7"/>
<path d="M234.8,297.8 L237.9,303.0 L242.1,308.3 L245.2,311.4 L246.3,315.6 L250.4,320.8 L252.5,326.0 L255.6,331.2 L256.7,335.4 L257.1,338.5 L262.9,336.8 L269.2,334.8 L277.6,331.8 L285.9,328.1 L291.1,325.0 L294.3,321.8 L298.4,315.6 L299.5,313.5 L297.4,310.3 L293.2,307.2 L291.1,304.1 L289.0,305.1 L285.9,307.2 L281.7,308.9 L277.6,308.3 L276.5,305.1 L274.4,303.0 L272.3,298.9 L269.2,295.7 L270.3,293.0 L273.4,292.6 L276.5,294.7 L278.6,297.8 L281.7,301.0 L285.9,302.0 L290.1,301.4 L292.6,303.0 L298.4,304.7 L306.8,305.5 L317.2,305.1 L321.4,308.3 L324.5,311.4 L325.6,314.5 L327.6,312.4 L326.6,315.6 L329.7,316.6 L331.8,313.5 L333.5,316.6 L333.9,321.8 L336.0,328.1 L339.1,335.4 L342.2,342.7 L344.8,349.0 L346.4,350.0 L349.6,346.9 L350.6,344.8 L351.6,340.6 L352.3,334.3 L352.7,330.2 L356.9,327.0 L363.1,322.9 L368.3,318.7 L372.5,315.6 L377.7,313.9 L381.9,312.4 L384.0,314.5 L383.6,316.6"/>
<path d="M351.0,345.8 L353.7,344.8 L355.8,347.9 L356.4,352.1 L354.8,355.2 L352.3,354.8 L350.6,351.0 Z"/>
<path d="M283.4,338.5 L285.9,338.9"/>
<path d="M144.0,355.6 L148.2,355.2 L153.4,354.8 L155.5,356.3 L157.6,358.3 L160.7,359.8 L164.9,359.4 L168.0,361.5 L169.5,364.6 L168.6,369.8 L167.0,374.0 L170.1,378.2 L174.3,382.3 L177.4,388.6 L179.5,394.9 L180.5,400.1 L177.4,404.3 L175.3,409.5 L174.9,414.7 L176.3,420.9"/>
<path d="M258.4,420.9 L258.4,415.7 L260.9,411.6 L266.1,408.4 L270.3,405.3 L272.3,402.2 L274.4,405.3 L275.5,410.5 L273.4,416.8 L271.7,420.9"/>
<path d="M384.0,316.6 L387.1,319.7 L389.2,323.9 L390.3,328.1 L393.4,329.1 L396.5,327.0 L398.6,330.2 L400.3,335.4 L400.7,340.6 L399.7,345.8 L398.6,350.0 L401.7,353.1 L404.9,357.3 L407.0,361.5 L410.1,365.6 L413.2,367.3 L415.3,365.6 L413.2,361.5 L410.1,357.3 L407.0,353.1 L403.8,349.0 L402.4,344.8 L403.2,339.6 L404.9,336.4 L408.0,338.5 L411.1,341.6 L414.3,344.8 L417.4,347.9 L421.6,345.8 L425.7,343.7 L428.9,340.6 L428.9,335.4 L426.8,330.2 L423.6,327.0 L420.5,323.9 L418.4,320.8 L420.5,317.6 L424.7,315.1 L427.8,315.1 L431.0,316.6 L434.1,315.1 L438.3,313.5 L444.5,311.8 L449.7,309.3 L453.9,306.2 L457.0,303.0 L460.2,299.9 L461.6,296.8"/>
<path d="M385.7,336.8 L385.7,340.2"/>
<path d="M426.8,319.7 L429.9,318.1 L432.4,319.7 L431.6,322.2 L428.2,323.5 L426.4,321.8 Z"/>
<path d="M457.0,307.2 L459.5,305.1 L461.6,306.2 L460.8,310.3 L458.7,313.5 L456.6,311.4 Z"/>
<path d="M476.7,301.6 L477.5,302.6"/>
<path d="M427.8,367.7 L431.0,364.6 L436.2,362.5 L440.3,360.4 L444.5,356.9 L448.7,353.5 L451.8,355.6 L453.9,357.3 L450.8,360.4 L450.4,364.6 L452.9,367.7 L450.8,371.9 L448.7,376.1 L446.6,380.3 L442.4,381.3 L438.3,379.2 L434.1,378.2 L431.0,376.1 L428.9,371.9 Z"/>
<path d="M449.7,348.5 L455.4,342.7 L455.8,343.5 L450.4,349.2 Z"/>
<path d="M457.5,323.5 L462.3,322.9 L462.9,327.0 L461.2,330.2 L462.3,333.3 L465.4,334.3 L467.5,337.5 L470.0,338.5 L470.6,341.6 L468.5,343.7 L466.4,340.6 L464.3,338.5 L461.6,338.9 L459.5,336.4 L458.1,332.7 L458.7,329.1 L457.0,327.0 Z"/>
<path d="M462.3,340.6 L465.4,342.7 L467.5,345.8 L464.3,347.9 L462.3,344.8 Z"/>
<path d="M462.3,351.0 L466.4,350.0 L469.6,347.9 L472.1,349.0 L473.7,352.1 L472.7,355.2 L469.6,356.3 L467.5,353.5 L464.3,352.7 L461.6,353.1 Z"/>
<path d="M455.0,369.8 L459.1,368.2 L464.3,368.8 L468.5,366.7 L469.6,368.2 L465.4,370.9 L461.2,371.9 L463.3,374.4 L461.6,376.1 L459.5,378.2 L462.3,381.3 L464.3,384.4 L462.3,384.8 L459.5,382.3 L458.1,380.3 L457.0,384.4 L455.0,384.8 L454.5,380.3 L453.9,376.1 L455.0,372.9 Z"/>
<path d="M475.8,365.6 L477.5,367.7 L476.9,370.9 L478.3,372.9 L476.2,371.9 L475.4,368.8 Z"/>
<path d="M472.7,379.8 L474.8,380.3"/>
<path d="M477.9,378.8 L482.1,379.2 L483.7,380.3 L480.0,380.3 Z"/>
<path d="M492.5,385.5 L494.2,387.6 L492.9,388.6 Z"/>
<path d="M485.8,389.6 L486.7,391.7"/>
<path d="M496.7,372.3 L498.4,373.2"/>
<path d="M484.2,371.9 L487.3,372.9 L490.4,371.9 L493.6,373.4 L492.5,376.1 L489.0,376.7 L490.8,379.2 L494.6,380.7 L498.8,381.7 L501.3,383.4 L504.0,385.9 L505.7,389.0 L503.4,392.4 L507.5,391.7 L511.7,393.2 L515.9,394.0 L519.2,391.9 L523.4,391.1 L527.2,392.8 L530.1,395.3 L533.4,397.6 L536.3,398.6 L534.3,395.5 L530.9,392.6 L528.0,389.4 L527.2,386.5 L530.5,385.7 L535.5,386.5 L539.3,384.8 L541.8,382.3 L540.1,379.8 L537.6,378.2 L539.3,381.1 L535.9,383.4 L531.7,384.8 L528.0,385.3 L524.2,383.4 L519.6,380.7 L514.4,378.6 L509.2,376.7 L504.0,374.6 L500.0,374.4 L497.1,376.1 L494.6,374.4 L490.4,375.0 L487.3,374.4 L484.6,373.2 Z"/>
<path d="M546.8,385.5 L548.9,386.5 L547.8,388.2 L546.4,386.9 Z"/>
<path d="M550.9,388.6 L553.4,389.6"/>
<path d="M557.2,390.7 L559.7,392.4"/>
<path d="M560.3,394.9 L563.5,393.2 L566.6,398.6 L563.5,396.9 Z"/>
<path d="M578.1,409.5 L580.2,413.6"/>
<path d="M605.6,416.8 L608.3,414.7 L611.5,413.6 L607.7,417.4 Z"/>
<path d="M460.2,420.9 L463.3,415.7 L467.5,411.6 L471.6,408.4 L475.8,406.3 L480.0,407.4 L481.0,409.9 L483.1,403.2 L486.3,401.1 L489.4,401.5 L492.5,401.1 L496.7,403.2 L499.8,402.2 L498.8,406.3 L497.7,409.5 L500.9,411.6 L505.0,413.6 L509.2,415.7 L511.3,411.6 L512.3,406.3 L513.8,401.1 L515.1,399.0 L516.5,403.2 L517.6,407.4 L520.7,410.5 L521.7,414.7 L523.8,417.8 L525.9,420.9"/>
<path d="M806.8,320.8 L811.8,322.9 L818.1,326.0 L824.3,328.5 L830.6,330.2 L834.8,329.8 L838.9,332.3 L845.2,334.8 L851.5,336.4 L855.6,339.6 L858.8,343.7 L861.9,345.8 L864.0,349.0"/>
<path d="M864.0,293.0 L857.7,292.2 L849.4,292.2 L848.3,294.3 L845.2,292.6 L838.9,293.0 L832.7,294.3 L828.5,297.8 L826.4,303.0 L826.0,309.3 L827.5,315.6 L830.6,320.8 L834.8,323.5 L840.0,322.9 L843.1,320.8 L844.8,316.6 L849.4,315.6 L854.6,315.6 L853.5,319.7 L851.9,325.0 L849.8,328.7 L853.5,330.2 L859.8,329.5 L864.0,328.1"/>
<path d="M860.9,313.9 L864.0,311.8"/>
<path d="M665.1,313.5 L665.7,313.9"/>
<path d="M668.0,314.5 L668.7,314.9"/>
<path d="M670.7,315.6 L671.6,316.0"/>
<path d="M673.7,316.6 L674.5,317.0"/>
<path d="M674.7,318.7 L676.6,318.1 L677.8,320.2 L676.2,321.8 Z"/>
<path d="M842.5,371.7 L843.7,372.9"/>
<path d="M631.3,405.7 L634.0,407.4"/>
<path d="M691.4,416.1 L692.2,416.8"/>
<path d="M864.0,328.1 L862.9,332.3 L862.3,338.5 L863.6,343.7 L864.0,345.2"/>
<path d="M883.8,278.0 L881.7,280.5 L877.6,283.2 L873.4,286.3 L870.3,289.5 L868.6,292.6 L869.2,296.8 L871.3,301.0 L872.3,304.1 L870.3,306.2 L867.1,304.1 L865.0,299.9 L864.0,293.7"/>
<path d="M875.5,302.0 L879.7,302.6"/>
<path d="M880.3,305.1 L882.4,306.8"/>
<path d="M877.6,307.2 L878.6,308.9"/>
<path d="M864.0,311.4 L868.2,311.0 L873.4,312.4 L878.6,314.5 L883.8,316.6 L887.0,318.7 L883.8,319.3 L878.6,318.1 L873.4,316.0 L868.2,314.5 L864.0,313.9"/>
<path d="M887.4,320.8 L890.1,319.3 L895.3,319.7 L899.5,320.8 L902.6,322.2 L899.5,323.5 L895.3,323.9 L891.1,324.3 L888.0,323.5 Z"/>
<path d="M877.6,323.5 L882.4,324.3"/>
<path d="M905.7,323.5 L909.5,324.3"/>
<path d="M887.6,312.2 L888.4,312.6"/>
<path d="M889.9,316.6 L891.1,316.6"/>
<path d="M893.2,314.5 L894.9,314.5"/>
<path d="M919.7,328.5 L920.3,329.1"/>
<path d="M864.0,333.1 L864.6,333.5"/>
<path d="M864.0,345.2 L868.2,346.9 L872.3,346.4 L876.5,345.8 L879.7,347.9"/>
<path d="M864.0,349.0 L869.2,350.0 L871.3,352.1 L873.4,350.0 L875.5,347.9 L877.6,349.0 L879.0,351.0 L879.7,354.2 L879.0,358.3 L878.6,361.5 L876.5,364.6 L873.4,367.7 L871.3,370.9 L870.3,375.0 L871.9,378.2 L870.3,381.3 L868.6,384.4 L870.3,387.6 L873.4,391.7 L876.5,396.9 L879.7,402.2 L882.8,407.4 L887.0,411.6 L892.2,414.7 L896.3,417.8 L898.4,420.9"/>
<path d="M879.7,347.9 L881.7,345.8 L884.9,342.7 L889.0,341.6 L893.2,339.6 L895.3,338.5 L894.3,340.6 L894.9,344.8 L895.7,345.8 L896.3,341.6 L897.4,339.6 L900.5,341.6 L903.6,343.1 L908.9,343.7 L914.1,344.8 L918.7,343.7 L922.4,344.4 L921.4,345.8 L924.5,349.0 L928.7,352.1 L932.9,354.8 L937.0,355.6 L942.3,356.9 L946.4,359.4 L949.1,362.5 L950.0,366.7 L947.5,370.9 L947.1,374.0 L949.6,375.0 L951.2,371.9 L953.7,371.5 L954.2,374.4 L956.9,372.3 L961.0,374.4 L965.2,377.1 L970.4,378.2 L976.7,378.6 L981.9,381.3 L987.1,384.0 L990.3,386.5 L990.9,390.7 L989.2,394.9 L986.1,399.0 L982.9,403.2 L979.8,407.4 L978.8,413.6 L977.7,420.9"/>
<path d="M918.3,343.1 L921.4,342.7 L922.4,344.4 L919.3,344.8 Z"/>
<path d="M1065.4,278.0 L1062.2,280.1 L1059.1,283.2 L1056.0,287.4 L1054.9,291.6 L1052.9,294.7 L1048.7,297.8 L1045.6,299.9 L1043.5,303.0 L1041.4,307.2 L1038.9,311.4 L1036.8,315.6 L1038.2,319.7 L1038.9,325.0 L1037.6,329.1 L1036.2,332.7 L1037.6,336.4 L1037.2,339.6 L1040.3,342.7 L1044.5,345.8 L1047.6,350.0 L1051.8,353.5 L1056.0,356.9 L1061.2,359.4 L1066.4,358.3 L1072.7,356.9 L1080.0,355.6"/>
<path d="M1037.2,297.8 L1038.9,298.5"/>
<path d="M1041.0,298.5 L1041.8,298.9"/>
<path d="M1043.9,296.4 L1045.1,295.5"/>
<path d="M1069.6,278.0 L1074.8,279.0 L1080.0,279.0"/>
<path d="M177.0,421.0 L179.5,424.1 L181.6,428.3 L182.6,433.5 L183.6,438.7 L185.7,442.9 L188.2,447.1 L191.0,451.3 L192.4,455.4 L192.0,458.6 L195.1,460.6 L200.3,459.8 L206.6,459.4 L212.9,458.6 L217.0,456.5 L221.2,453.3 L225.4,449.2 L228.5,445.0 L229.6,440.8 L229.1,437.7 L231.6,435.6 L235.8,434.6 L236.9,430.4 L235.4,426.2 L235.8,423.1 L234.8,421.0"/>
<path d="M258.4,421.0 L256.7,425.2 L256.7,429.3 L258.4,433.9 L261.3,436.7 L265.0,436.7 L267.5,434.6 L268.8,430.4 L269.8,426.2 L271.3,421.0"/>
<path d="M287.6,425.2 L289.0,425.6"/>
<path d="M293.2,423.1 L294.3,423.7"/>
<path d="M323.0,497.8 L325.1,498.6 L327.6,498.2 L325.6,499.5 Z"/>
<path d="M144.0,552.1 L152.3,552.5 L160.7,552.5 L169.0,552.5 L176.3,552.5 L181.6,550.4 L185.7,551.4 L194.1,552.1 L202.4,552.5 L206.6,553.3 L215.0,552.5 L223.3,550.8 L227.5,550.0 L231.6,547.9 L235.8,549.3 L240.0,550.8 L244.2,552.1 L247.3,550.4 L250.4,548.3 L256.7,547.3 L262.9,546.2 L269.2,545.2 L273.4,543.7 L277.6,542.0 L281.7,541.2 L286.9,541.2 L290.1,542.5 L294.3,544.1 L298.4,545.2 L306.8,545.8 L315.1,546.2 L323.5,546.2 L327.6,547.9 L331.8,549.3 L336.0,550.8 L340.2,551.4 L344.3,550.4 L348.5,547.9 L352.7,546.6 L356.4,545.8 L356.9,543.1 L361.0,542.7 L367.3,542.0 L372.5,541.6 L375.6,543.1 L384.0,543.5"/>
<path d="M460.2,421.0 L455.0,422.7 L448.7,424.1 L443.5,426.2 L439.9,429.3 L439.3,433.5 L438.7,438.7 L440.3,441.9 L441.4,447.1 L443.5,452.3 L445.6,456.5 L443.5,458.6 L445.6,461.1 L450.8,461.1 L456.0,459.0 L461.2,458.1 L466.4,456.5 L471.6,454.4 L477.9,453.3 L482.1,452.3 L487.3,452.7 L491.5,454.0 L494.6,456.5 L496.7,459.6 L498.4,461.7 L500.9,458.6 L502.5,456.1 L503.4,460.6 L501.9,463.8 L505.0,462.7 L507.1,465.9 L509.2,468.6 L513.4,470.7 L517.6,471.1 L520.7,469.4 L523.8,472.1 L528.0,470.0 L533.2,469.4 L534.7,465.9 L537.4,461.7 L540.1,456.5 L542.2,452.3 L543.6,447.1 L543.6,441.9 L542.2,436.7 L539.5,431.4 L535.3,427.3 L531.1,423.5 L528.0,421.6 L525.9,421.0"/>
<path d="M499.8,461.7 L502.5,459.6 L503.4,463.8 Z"/>
<path d="M520.7,476.3 L524.9,476.9 L530.1,476.3 L530.5,479.4 L528.0,483.2 L524.9,483.6 L522.1,481.1 Z"/>
<path d="M571.4,423.5 L574.9,425.6 L578.5,428.3 L577.7,428.9 L573.9,426.8 L571.0,424.3 Z"/>
<path d="M593.7,460.2 L596.4,462.7 L598.5,465.9 L601.0,468.0 L605.2,469.0 L608.3,468.6 L607.3,472.1 L604.2,475.3 L602.1,478.4 L600.0,477.8 L598.9,474.2 L596.9,472.1 L597.9,468.6 L595.8,464.8 Z"/>
<path d="M596.9,476.3 L597.9,478.4 L594.8,481.5 L591.6,484.6 L587.5,487.8 L583.3,490.9 L580.2,493.0 L577.7,490.9 L577.0,488.8 L580.2,486.1 L584.3,483.6 L588.5,480.5 L591.6,477.3 L594.4,475.7 Z"/>
<path d="M620.9,484.2 L621.7,485.1"/>
<path d="M384.0,543.5 L390.3,542.7 L392.3,539.5 L398.6,538.3 L402.8,541.0 L407.0,539.9 L411.1,539.5 L415.3,542.0 L421.6,542.5 L426.8,543.7 L432.0,541.6 L438.3,541.0 L444.5,543.1 L450.8,544.1 L459.1,543.7 L467.5,542.0 L473.7,542.5 L477.9,544.1 L484.2,542.0 L492.5,541.6 L492.9,539.5 L495.6,539.5 L496.3,541.6 L502.9,542.5 L513.4,543.7 L521.7,544.5 L530.1,546.6 L538.4,547.9 L546.8,548.7 L555.1,550.4 L563.5,552.1 L571.8,553.5 L580.2,554.6 L587.5,556.2 L588.5,557.7 L585.4,560.4 L578.1,561.9 L572.9,563.9"/>
<path d="M898.4,421.0 L898.4,427.3 L897.4,433.5 L896.3,439.8 L895.3,446.0 L894.9,452.3 L893.2,458.6 L891.1,464.8 L889.5,471.1 L888.6,477.3 L889.5,480.5 L888.0,483.6 L889.0,486.7 L886.5,489.9 L884.9,494.0 L885.3,499.3 L886.5,503.4 L888.6,506.6 L892.2,509.7 L896.3,512.4 L901.6,513.9 L906.8,513.9 L911.6,512.8 L907.8,511.2 L903.6,508.6 L901.6,505.5 L901.1,502.4 L903.6,498.2 L906.8,495.1 L908.9,492.0 L906.8,488.8 L908.9,485.7 L913.0,482.6 L911.6,479.4 L913.0,476.3 L917.2,474.8 L918.7,472.1 L924.5,471.1 L929.7,470.0 L932.9,468.0 L931.8,463.8 L932.9,461.7 L929.1,460.2 L931.8,459.6 L936.0,461.1 L940.2,459.6 L944.3,456.5 L948.5,452.3 L951.6,448.1 L954.2,444.0 L954.8,438.7 L955.8,435.6 L960.0,432.5 L965.2,430.4 L970.4,429.8 L973.6,428.3 L975.6,425.2 L977.7,421.0"/>
<path d="M888.0,479.4 L890.7,479.0 L891.1,482.6 L889.5,484.6 L887.8,483.6 Z"/>
<path d="M888.6,506.6 L893.2,508.2 L898.4,507.6 L901.6,508.6 L899.9,510.7 L895.3,511.2 L891.1,509.7"/>
<path d="M912.0,480.5 L914.1,481.1 L913.2,482.4 Z"/>
<path d="M922.0,504.9 L925.6,503.6 L930.4,504.5 L927.6,506.6 L924.1,506.1 Z"/>
<path d="M982.5,510.7 L987.5,512.4"/>
<path d="M960.4,527.4 L963.1,528.5"/>
<path d="M864.0,561.9 L870.3,560.4 L875.5,558.7 L880.7,559.8 L887.0,560.4 L895.3,559.8 L901.6,557.7 L903.6,554.6 L902.6,551.4"/>
<path d="M902.6,551.4 L905.7,547.3 L911.0,543.1 L916.2,539.5 L923.5,536.8 L930.8,535.4 L937.0,534.7 L932.9,536.2 L926.6,538.9 L923.5,542.0 L924.5,546.2 L922.4,550.4 L921.4,554.6 L924.5,557.7 L923.5,560.8 L920.3,563.9"/>
<path d="M923.5,533.7 L930.8,531.6"/>
<path d="M914.1,538.9 L918.3,537.4"/>
<path d="M1020.5,563.9 L1028.9,561.2 L1037.2,559.1 L1045.6,557.7 L1049.7,555.6 L1056.0,553.5 L1064.3,552.9 L1072.7,552.1 L1080.0,551.4"/>
<path d="M572.8,563.8 L569.2,565.5 L567.1,568.4 L568.6,571.1 L573.4,572.2 L578.6,570.7 L586.9,571.1 L597.4,571.5 L600.1,571.8"/>
<path d="M600.0,571.1 L608.3,573.2 L620.9,573.8 L637.6,574.3 L650.1,574.3 L660.5,572.6 L671.0,570.5 L683.5,571.1 L691.8,569.0 L701.2,566.3 L712.7,565.5 L725.2,564.2 L737.7,563.2 L748.2,562.8 L750.3,560.3 L755.5,561.3 L760.7,561.3 L766.9,562.8 L777.4,562.4 L787.8,562.8 L796.2,563.8 L799.3,565.5 L803.5,563.8 L808.7,564.9 L814.9,565.5 L816.0,562.8 L812.9,560.7 L811.8,558.6 L817.0,557.6 L825.4,557.1 L831.6,558.0 L840.0,559.2"/>
<path d="M689.7,570.1 L698.1,567.6"/>
<path d="M840.0,559.2 L846.3,558.6 L854.6,559.6 L864.0,561.7"/>
<path d="M920.3,563.8 L923.5,565.5 L931.8,567.0 L940.2,569.0 L948.5,571.1 L956.9,572.6 L963.1,573.6 L971.5,573.2 L977.7,572.2 L986.1,573.6 L992.3,572.2 L1000.7,570.1 L1009.0,568.4 L1017.4,565.9 L1020.7,564.2"/>
<path d="M1017.4,564.9 L1022.6,563.4 L1027.8,563.8 L1025.7,565.9 L1021.6,566.3 Z"/>
<path d="M882.8,553.4 L888.0,551.3 L894.3,549.6 L899.5,550.3 L902.6,553.4 L903.6,557.1 L900.5,559.2 L894.3,559.6 L888.0,558.6 L882.8,556.5 Z"/>
<path d="M884.9,554.4 L891.1,553.4 L896.3,551.3 L898.4,554.4 L894.3,556.5 L889.0,555.9 L892.2,558.0 L898.4,557.6"/>
<path d="M922.4,532.9 L930.2,531.5"/>
<path d="M914.1,538.8 L918.3,537.7"/>
<path d="M960.4,527.7 L963.5,528.8"/>
<path d="M144.0,270.4 L146.2,266.7 L149.2,263.8 L151.4,263.0 L150.6,260.1 L153.6,258.6 L158.0,259.3 L162.4,257.4 L167.6,256.1 L170.5,257.4 L172.0,260.1 L175.0,262.3 L178.7,263.8 L181.6,266.0 L184.5,268.2 L186.0,270.4 L185.0,272.6 L183.5,274.1 L184.5,274.8 L185.9,272.6 L186.8,270.4 L188.2,268.2 L191.2,266.7 L190.0,265.7 L186.8,264.5 L182.3,261.5 L177.9,258.6 L175.3,255.6 L175.7,253.4 L179.4,252.4 L183.1,254.9 L188.2,258.6 L193.4,261.5 L195.6,266.0 L197.8,268.9 L199.7,271.9 L200.0,271.9 L203.0,272.6 L204.2,274.1 L203.0,276.3 L200.8,276.6 L199.3,274.8 L199.7,272.6"/>
<path d="M203.0,272.6 L207.1,272.6 L205.2,271.1 L203.7,268.9 L202.2,266.7 L204.5,265.7 L208.9,266.0 L213.3,266.0 L216.3,265.2 L219.2,264.5 L220.4,265.2 L217.7,266.0 L214.0,266.7 L212.6,268.2 L211.8,270.4 L213.3,273.3 L215.5,276.3 L217.7,277.8 L220.7,275.5 L222.9,277.0 L225.1,276.0 L228.0,277.8 L231.0,277.0 L233.9,276.0 L237.2,275.5 L237.9,277.8 L236.9,278.1"/>
<path d="M144.0,275.5 L149.9,275.1 L158.7,274.8 L167.6,274.5 L171.3,275.5 L172.8,277.8 L171.3,280.0 L170.1,282.2"/>
<path d="M176.4,273.3 L180.1,272.6 L183.8,272.2 L183.5,274.5 L182.6,276.0 L179.4,275.1 L177.2,274.5 Z"/>
<path d="M166.9,260.4 L168.3,260.8 L168.5,263.3 L167.3,264.5 L166.4,263.0 Z"/>
<path d="M165.8,265.2 L168.3,264.9 L169.5,266.7 L169.1,269.2 L167.3,270.4 L165.7,269.2 L165.4,266.7 Z"/>
<path d="M150.6,268.2 L152.1,267.7 L152.6,268.9 L151.1,269.2 Z"/>
<path d="M205.2,279.2 L208.9,279.7 L212.1,280.0 L208.9,280.4 L205.6,280.0 Z"/>
<path d="M228.3,280.0 L231.0,278.9 L233.2,278.8 L231.3,280.7 L229.2,281.4 Z"/>
<path d="M216.3,277.0 L217.0,277.8"/>
<path d="M763.6,278.0 L764.9,278.5 L767.7,281.7 L771.2,282.4 L774.7,284.5 L776.8,288.3 L778.6,291.8 L780.0,294.3 L782.4,296.0 L783.8,297.4 L781.7,299.2 L783.8,301.3 L786.6,302.3 L788.7,304.1 L789.4,305.8 L788.4,306.5 L790.8,307.9 L792.9,309.7 L794.7,311.8 L795.9,310.7 L795.4,309.0 L793.3,308.3 L792.6,306.2 L790.8,303.0 L788.7,299.9 L786.6,296.7 L784.2,294.3 L782.4,292.5 L782.1,289.0 L783.8,289.4 L786.3,290.1 L787.7,293.2 L789.1,296.0 L792.2,298.5 L794.3,300.6 L796.4,303.0 L797.1,305.1 L799.9,306.9 L802.7,309.3 L805.2,311.8 L806.9,314.9 L806.2,317.7 L807.3,319.8 L809.0,321.2 L811.1,322.6 L813.0,324.0"/>
<path d="M508.3,261.3 L509.3,264.9 L508.8,268.1 L507.2,270.7 L505.1,272.8 L503.0,274.4 L500.9,275.4 L499.9,274.4 L498.3,276.5 L496.7,277.5 L493.6,278.1 L490.4,278.8 L487.8,279.6 L485.2,281.2 L483.1,282.6 L481.5,284.4 L481.5,286.5 L482.6,288.0 L483.1,290.1 L484.7,290.7 L486.2,289.1 L486.8,287.0 L487.8,285.4 L489.9,284.4 L492.5,283.3 L494.6,282.6 L496.7,283.8 L498.8,282.3 L500.4,280.7 L503.0,280.7 L505.7,279.8 L508.3,279.6 L509.9,278.1 L510.4,275.4 L511.5,272.3 L513.0,270.2 L513.6,268.1 L512.5,265.5 L510.9,263.4 L509.3,261.8 Z"/>
<path d="M487.8,283.3 L490.4,281.7 L493.6,281.2 L495.2,281.7 L493.1,282.8 L490.4,283.8 L488.9,284.9 Z"/>
<path d="M512.5,253.4 L513.6,252.8 L515.1,254.9 L517.8,256.5 L520.4,257.0 L523.0,256.5 L523.5,258.1 L521.4,259.1 L518.8,260.2 L516.7,261.8 L513.6,261.3 L510.9,260.7 L508.8,261.8 L507.8,260.7 L509.9,259.1 L512.0,257.6 L512.3,255.5 Z"/>
<path d="M514.6,230.3 L515.7,231.3 L516.7,235.5 L518.3,240.2 L519.6,243.4 L517.2,244.4 L516.2,247.6 L517.2,250.2 L515.1,250.7 L513.0,250.2 L513.6,246.0 L513.6,240.8 L513.0,235.5 L513.6,232.4 Z"/>
<path d="M526.2,255.5 L528.3,254.2 L530.4,253.4 L528.5,254.6 Z"/>
<path d="M533.0,252.5 L535.6,251.3"/>
<path d="M496.7,257.0 L494.6,258.1 L492.0,259.7 L489.4,260.2 L487.3,259.1 L485.2,259.9 L482.0,261.8 L480.5,264.4 L477.8,266.5 L475.7,267.6 L475.2,269.1 L477.3,271.2 L479.4,273.3 L480.5,275.4 L480.8,278.6 L479.9,280.2 L476.8,280.7 L473.6,282.3 L472.6,280.7 L473.6,278.1 L472.6,276.0 L473.6,274.4 L471.0,273.3 L468.9,271.8 L470.5,270.2 L469.9,268.6 L467.3,267.6 L464.2,268.1 L461.5,269.7 L459.4,270.2 L461.0,268.6 L462.1,266.5 L460.5,265.1 L457.9,265.5 L454.7,267.0 L452.1,268.6 L450.0,270.2 L451.0,272.3 L453.1,273.9 L455.8,275.2 L457.9,274.4 L461.0,273.9 L462.6,275.2 L460.5,276.0 L457.9,277.0 L455.2,278.6 L454.2,280.7 L456.3,282.3 L457.3,284.4 L458.4,286.5 L460.5,288.6 L461.5,290.7 L460.5,292.2 L458.4,292.2 L460.5,293.8 L461.0,297.0"/>
<path d="M392.3,356.9 L394.4,356.1 L397.9,357.9 L402.0,360.7 L406.2,364.1 L410.4,368.0 L413.8,371.1 L417.3,374.5 L419.4,376.6 L420.1,379.4 L419.8,382.9 L419.4,386.0 L416.6,385.6 L413.1,382.9 L409.7,379.4 L406.2,375.2 L402.7,371.1 L400.0,366.9 L397.2,363.4 L394.4,360.0 Z"/>
<path d="M419.4,386.3 L423.6,387.4 L428.4,389.1 L432.6,390.2 L437.4,391.2 L441.6,392.6 L445.1,393.3 L449.2,393.0 L454.8,393.3 L460.3,392.8 L465.2,392.6 L464.5,394.0 L460.3,394.4 L454.8,394.7 L449.2,394.4 L445.1,394.9 L441.6,394.0 L437.4,393.3 L432.6,392.6 L428.4,391.9 L423.6,390.5 L419.8,388.8 Z"/>
<path d="M465.9,396.7 L468.7,394.7 L472.1,393.0 L474.9,391.9 L474.2,393.3 L471.4,395.3 L468.0,397.4 Z"/>
<path d="M453.4,396.0 L456.2,396.9 L458.9,397.1"/>
<path d="M397.2,367.6 L398.6,369.0"/>
<path d="M400.7,373.1 L402.0,374.9"/>
<path d="M418.0,375.2 L420.8,375.9 L421.2,378.0 L419.4,378.3 Z"/>
<path d="M424.2,377.7 L425.4,378.3"/>
<path d="M845.1,159.7 L851.3,158.3 L859.7,156.9 L868.0,155.8 L877.7,155.6 L886.0,155.3 L895.8,155.3 L902.7,155.8 L911.0,156.2 L918.0,157.2 L921.4,158.6 L920.7,160.4 L918.0,159.7 L912.4,161.1 L906.9,162.5 L901.3,163.9 L895.8,165.3 L890.2,166.7 L886.0,168.0 L881.9,170.1 L877.7,171.5 L874.9,172.9 L871.5,173.6 L866.6,174.3 L861.1,174.7 L855.5,175.0 L850.0,174.7 L845.8,173.9 L848.6,172.9 L852.7,172.2 L855.5,171.1 L859.0,169.7 L861.3,167.3 L861.9,164.7 L859.0,162.5 L853.4,160.8 L847.9,160.0 Z"/>
<path d="M861.1,162.5 L869.4,161.8 L878.4,161.1"/>
<path d="M833.3,162.5 L837.5,160.4 L843.0,160.8 L847.2,162.2 L852.7,163.6 L856.9,165.0 L859.0,166.4 L855.5,167.8 L851.3,168.3 L847.2,168.6 L841.6,168.3 L837.5,167.3 L836.8,165.3 L834.0,163.9 Z"/>
<path d="M846.5,183.3 L850.0,180.8 L858.3,179.1 L869.4,177.8 L877.7,178.4 L881.9,180.8 L877.7,182.8 L870.8,183.6 L868.0,181.6 L859.7,181.1 L856.2,183.3 L857.6,185.5 L862.4,187.2 L859.7,188.2 L854.1,187.5 L849.3,186.1 Z"/>
<path d="M824.3,167.3 L829.1,166.4 L833.3,167.8 L836.8,169.4 L840.2,170.8 L837.5,171.5 L832.6,170.8 L827.8,169.4 Z"/>
<path d="M829.8,175.7 L834.0,174.7 L837.2,175.7 L836.1,177.5 L831.9,177.5 Z"/>
<path d="M880.5,195.1 L883.3,193.7 L886.7,194.7 L885.3,196.9 L881.9,197.2 Z"/>
<path d="M863.1,209.7 L866.6,208.3"/>
<path d="M872.2,209.7 L874.2,209.4 L874.7,211.3 L872.9,211.8 Z"/>
<path d="M872.9,224.9 L874.9,224.7 L874.9,226.6 Z"/>
<path d="M867.3,233.3 L869.4,234.0"/>
</g>
<rect x="684" y="34.5" width="468" height="14" fill="url(#cb)"/>
<rect x="683.5" y="34.5" width="468.5" height="14" fill="none" stroke="#1a1a1a" stroke-width="1"/>
<path d="M777.6 34.5V40.8 M777.6 42.2V48.5" stroke="#1a0000" stroke-opacity="0.85" stroke-width="1"/><path d="M777.6 40.8V42.2" stroke="#1a0000" stroke-opacity="0.4" stroke-width="1"/>
<path d="M871.2 34.5V40.8 M871.2 42.2V48.5" stroke="#1a0000" stroke-opacity="0.85" stroke-width="1"/><path d="M871.2 40.8V42.2" stroke="#1a0000" stroke-opacity="0.4" stroke-width="1"/>
<path d="M964.8 34.5V40.8 M964.8 42.2V48.5" stroke="#1a0000" stroke-opacity="0.85" stroke-width="1"/><path d="M964.8 40.8V42.2" stroke="#1a0000" stroke-opacity="0.4" stroke-width="1"/>
<path d="M1058.4 34.5V40.8 M1058.4 42.2V48.5" stroke="#1a0000" stroke-opacity="0.85" stroke-width="1"/><path d="M1058.4 40.8V42.2" stroke="#1a0000" stroke-opacity="0.4" stroke-width="1"/>
<text transform="translate(684.00,83.00) rotate(0.03) scale(1.012,1.005)" text-anchor="middle">0</text>
<text transform="translate(777.60,83.00) rotate(0.03) scale(1.012,1.005)" text-anchor="middle">0.2</text>
<text transform="translate(871.20,83.00) rotate(0.03) scale(1.012,1.005)" text-anchor="middle">0.4</text>
<text transform="translate(964.80,83.00) rotate(0.03) scale(1.012,1.005)" text-anchor="middle">0.6</text>
<text transform="translate(1058.40,83.00) rotate(0.03) scale(1.012,1.005)" text-anchor="middle">0.8</text>
<text transform="translate(917.70,20.80) rotate(0.03) scale(1.012,1.005)" text-anchor="middle">S4</text>
<text transform="translate(386.70,120.60) rotate(0.03) scale(1.0035,1.0)" xml:space="preserve">PBf20130622  mjd: 56465  UT:   9.25</text>
<rect x="144" y="135" width="936" height="468" fill="none" stroke="#646464" stroke-width="2" stroke-linejoin="round"/>
<path d="M144.0 603v-10 M144.0 135v10 M170.0 603v-5 M170.0 135v5 M196.0 603v-5 M196.0 135v5 M222.0 603v-5 M222.0 135v5 M248.0 603v-5 M248.0 135v5 M274.0 603v-10 M274.0 135v10 M300.0 603v-5 M300.0 135v5 M326.0 603v-5 M326.0 135v5 M352.0 603v-5 M352.0 135v5 M378.0 603v-5 M378.0 135v5 M404.0 603v-10 M404.0 135v10 M430.0 603v-5 M430.0 135v5 M456.0 603v-5 M456.0 135v5 M482.0 603v-5 M482.0 135v5 M508.0 603v-5 M508.0 135v5 M534.0 603v-10 M534.0 135v10 M560.0 603v-5 M560.0 135v5 M586.0 603v-5 M586.0 135v5 M612.0 603v-5 M612.0 135v5 M638.0 603v-5 M638.0 135v5 M664.0 603v-10 M664.0 135v10 M690.0 603v-5 M690.0 135v5 M716.0 603v-5 M716.0 135v5 M742.0 603v-5 M742.0 135v5 M768.0 603v-5 M768.0 135v5 M794.0 603v-10 M794.0 135v10 M820.0 603v-5 M820.0 135v5 M846.0 603v-5 M846.0 135v5 M872.0 603v-5 M872.0 135v5 M898.0 603v-5 M898.0 135v5 M924.0 603v-10 M924.0 135v10 M950.0 603v-5 M950.0 135v5 M976.0 603v-5 M976.0 135v5 M1002.0 603v-5 M1002.0 135v5 M1028.0 603v-5 M1028.0 135v5 M1054.0 603v-10 M1054.0 135v10 M1080.0 603v-5 M1080.0 135v5 M144 590.0h9.5 M1080 590.0h-9.5 M144 577.0h9.5 M1080 577.0h-9.5 M144 564.0h19 M1080 564.0h-19 M144 551.0h9.5 M1080 551.0h-9.5 M144 538.0h9.5 M1080 538.0h-9.5 M144 525.0h9.5 M1080 525.0h-9.5 M144 512.0h9.5 M1080 512.0h-9.5 M144 499.0h19 M1080 499.0h-19 M144 486.0h9.5 M1080 486.0h-9.5 M144 473.0h9.5 M1080 473.0h-9.5 M144 460.0h9.5 M1080 460.0h-9.5 M144 447.0h9.5 M1080 447.0h-9.5 M144 434.0h19 M1080 434.0h-19 M144 421.0h9.5 M1080 421.0h-9.5 M144 408.0h9.5 M1080 408.0h-9.5 M144 395.0h9.5 M1080 395.0h-9.5 M144 382.0h9.5 M1080 382.0h-9.5 M144 369.0h19 M1080 369.0h-19 M144 356.0h9.5 M1080 356.0h-9.5 M144 343.0h9.5 M1080 343.0h-9.5 M144 330.0h9.5 M1080 330.0h-9.5 M144 317.0h9.5 M1080 317.0h-9.5 M144 304.0h19 M1080 304.0h-19 M144 291.0h9.5 M1080 291.0h-9.5 M144 278.0h9.5 M1080 278.0h-9.5 M144 265.0h9.5 M1080 265.0h-9.5 M144 252.0h9.5 M1080 252.0h-9.5 M144 239.0h19 M1080 239.0h-19 M144 226.0h9.5 M1080 226.0h-9.5 M144 213.0h9.5 M1080 213.0h-9.5 M144 200.0h9.5 M1080 200.0h-9.5 M144 187.0h9.5 M1080 187.0h-9.5 M144 174.0h19 M1080 174.0h-19 M144 161.0h9.5 M1080 161.0h-9.5 M144 148.0h9.5 M1080 148.0h-9.5" stroke="#646464" stroke-width="2" fill="none"/>
<text transform="translate(128.60,180.80) rotate(0.03) scale(1.012,1.02)" text-anchor="end">75</text>
<text transform="translate(128.60,245.80) rotate(0.03) scale(1.012,1.02)" text-anchor="end">50</text>
<text transform="translate(128.60,310.80) rotate(0.03) scale(1.012,1.02)" text-anchor="end">25</text>
<text transform="translate(128.60,375.80) rotate(0.03) scale(1.012,1.02)" text-anchor="end">0</text>
<text transform="translate(128.60,440.80) rotate(0.03) scale(1.012,1.02)" text-anchor="end">-25</text>
<text transform="translate(128.60,505.80) rotate(0.03) scale(1.012,1.02)" text-anchor="end">-50</text>
<text transform="translate(128.60,570.80) rotate(0.03) scale(1.012,1.02)" text-anchor="end">-75</text>
<text transform="translate(144.00,637.10) rotate(0.03) scale(1.016,1.0)" text-anchor="middle">0</text>
<text transform="translate(274.00,637.10) rotate(0.03) scale(1.016,1.0)" text-anchor="middle">50</text>
<text transform="translate(404.00,637.10) rotate(0.03) scale(1.016,1.0)" text-anchor="middle">100</text>
<text transform="translate(534.00,637.10) rotate(0.03) scale(1.016,1.0)" text-anchor="middle">150</text>
<text transform="translate(664.00,637.10) rotate(0.03) scale(1.016,1.0)" text-anchor="middle">200</text>
<text transform="translate(794.00,637.10) rotate(0.03) scale(1.016,1.0)" text-anchor="middle">250</text>
<text transform="translate(924.00,637.10) rotate(0.03) scale(1.016,1.0)" text-anchor="middle">300</text>
<text transform="translate(1054.00,637.10) rotate(0.03) scale(1.016,1.0)" text-anchor="middle">350</text>
<text transform="translate(-0.40,335.80) rotate(0.03) scale(1.004,1.005)">Latitude</text>
<text transform="translate(611.80,677.70) rotate(0.03) scale(1.017,1.005)" text-anchor="middle">Longitude</text>
</svg>
</body></html>
